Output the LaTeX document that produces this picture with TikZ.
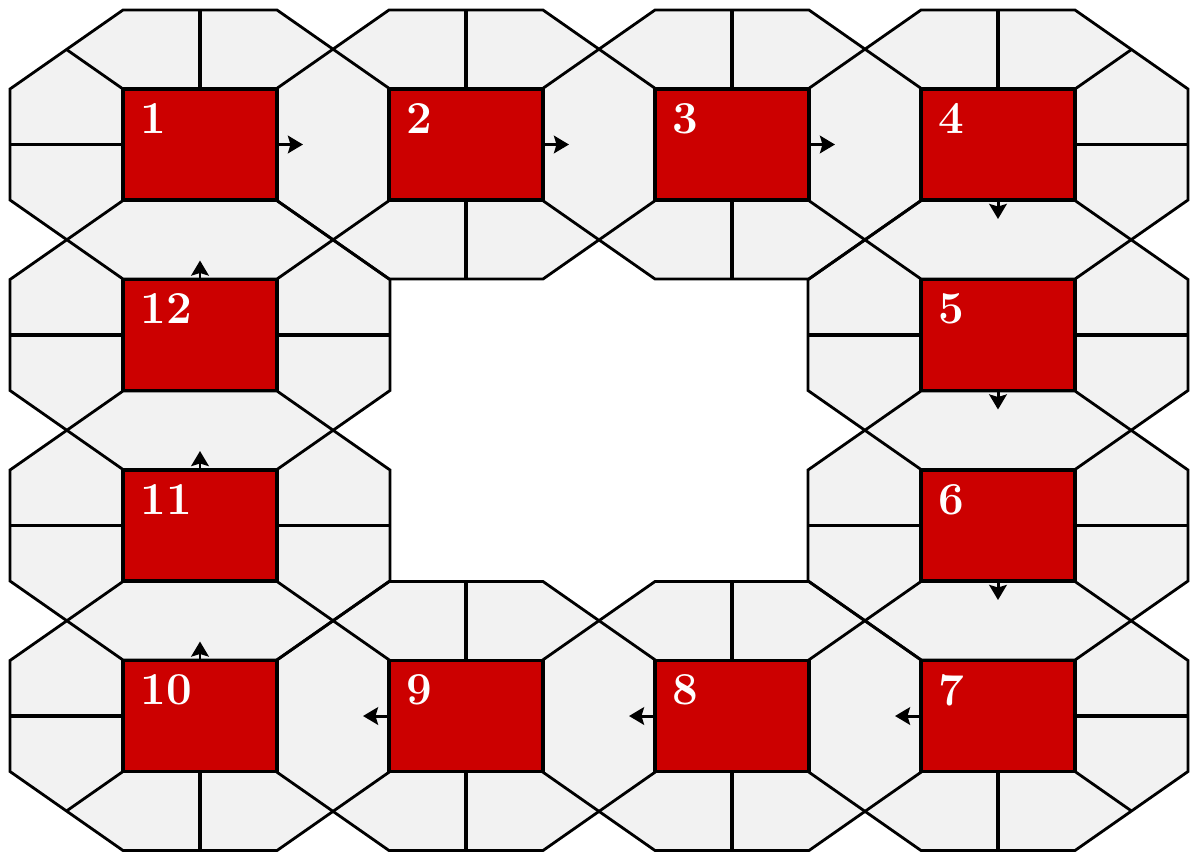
\documentclass[tikz,border=0pt]{standalone}
\usepackage{tikz}
\usetikzlibrary{arrows.meta,calc}
\definecolor{CellGray}{HTML}{F2F2F2}
\definecolor{RoomRed}{HTML}{CC0000}

\begin{document}
\begin{tikzpicture}[
    x=0.02cm, y=-0.02cm,
    cell/.style={fill=CellGray},
    edge/.style={draw=black, line width=1.6pt},
    spoke/.style={draw=black, line width=2.1pt},
    octagon/.style={insert path={+(-77,-134.5) -- +(77,-134.5) -- +(190,-55.5) -- +(190,55.5) -- +(77,134.5) -- +(-77,134.5) -- +(-190,55.5) -- +(-190,-55.5) -- cycle}},
    room/.style={draw=black, line width=1.8pt, fill=RoomRed, minimum width=3.08cm, minimum height=2.22cm, inner sep=0pt, outer sep=0pt},
    num/.style={text=white, font=\fontsize{26}{28}\selectfont\bfseries, inner sep=0pt, anchor=north west},
    arr/.style={-{Stealth[length=3mm, width=3.5mm, inset=0.5mm]}, line width=1.7pt}
]
\path[fill=white, use as bounding box] (0,0) rectangle (1191,853);

% centres of the twelve cells, round the ring
\foreach \n/\i/\j in {1/0/0, 2/1/0, 3/2/0, 4/3/0, 5/3/1, 6/3/2, 7/3/3, 8/2/3, 9/1/3, 10/0/3, 11/0/2, 12/0/1}
    \coordinate (c\n) at ({200+266*\i}, {144.5+190.5*\j});

% octagons: fill first, then outlines
\foreach \n in {1,...,12}
    \fill[cell] (c\n) [octagon];
\foreach \n in {1,...,12}
    \draw[edge] (c\n) [octagon];

% red rooms
\foreach \n in {1,...,12}
    \node[room] (sq\n) at (c\n) {};

% spokes on the outer sides
\foreach \n/\a/\dx/\dy in {1/north/0/-79, 1/west/-113/0, 2/north/0/-79, 2/south/0/79,
        3/north/0/-79, 3/south/0/79, 4/north/0/-79, 4/east/113/0,
        5/west/-113/0, 5/east/113/0, 6/west/-113/0, 6/east/113/0,
        7/east/113/0, 7/south/0/79, 8/north/0/-79, 8/south/0/79,
        9/north/0/-79, 9/south/0/79, 10/west/-113/0, 10/south/0/79,
        11/west/-113/0, 11/east/113/0, 12/west/-113/0, 12/east/113/0}
    \draw[spoke] (sq\n.\a) -- ++(\dx,\dy);

% half diagonals at the four outer corners
\foreach \n/\a/\dx/\dy in {1/north west/-56.5/-39.5, 4/north east/56.5/-39.5,
        7/south east/56.5/39.5, 10/south west/-56.5/39.5}
    \draw[edge] (sq\n.\a) -- ++(\dx,\dy);

% numbers
\foreach \n in {1,...,12}
    \node[num] (num\n) at ($(sq\n.north west)+(17,14)$) {\n};

% direction arrows
\foreach \n/\a/\dx/\dy in {1/east/26/0, 2/east/26/0, 3/east/26/0,
        4/south/0/19, 5/south/0/19, 6/south/0/19,
        7/west/-26/0, 8/west/-26/0, 9/west/-26/0,
        10/north/0/-19, 11/north/0/-19, 12/north/0/-19} {
    \coordinate (tip\n) at ($(sq\n.\a)+(\dx,\dy)$);
    \draw[arr] (sq\n.\a) -- (tip\n);
}
\end{tikzpicture}
\end{document}
